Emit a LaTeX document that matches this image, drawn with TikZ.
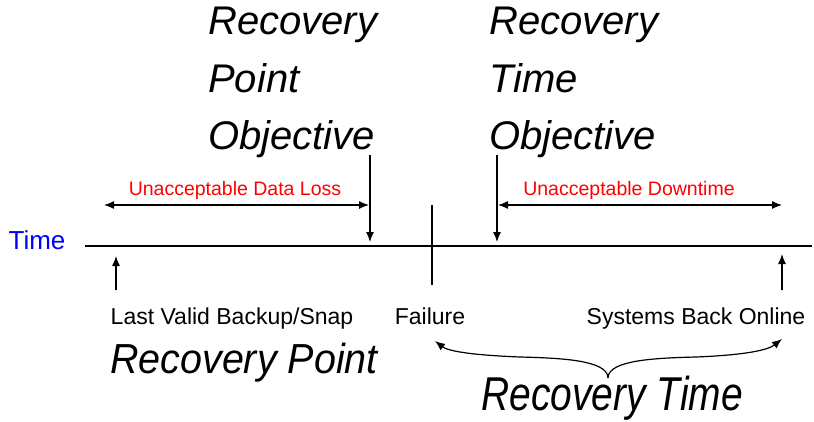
\documentclass[tikz,border=0pt]{standalone}
\usepackage{fontspec}
\setmainfont{Liberation Sans}
\usetikzlibrary{arrows,arrows.meta}
\newcommand{\squeeze}[2]{\scalebox{#1}[1]{#2}}
\tikzset{
	bigtext/.style = {align=left, inner sep=0pt, font=\fontsize{40}{57.5}\selectfont\itshape},% grands titres
	smalltext/.style = {inner sep=0pt, anchor=base, font=\fontsize{23}{26}\selectfont},% etiquettes
	redtext/.style = {smalltext, red, font=\fontsize{19.5}{22}\selectfont},% zones rouges
	line/.style = {line width=1.2pt},
	mark_line/.style = {line, -{Latex[length=10pt,width=8pt]}}
}

\begin{document}
\begin{tikzpicture}[x=1pt,y=-1pt,>={Latex[length=10pt,width=8pt]}]
	\useasboundingbox (0,0) rectangle (814,421);
	% titres
	\node[bigtext, anchor=north west] (rpo) at (208,7) {Recovery\\Point\\Objective};
	\node[bigtext, anchor=north west] (rto) at (489,7) {Recovery\\Time\\Objective};
	% axe du temps
	\node[smalltext, blue, font=\fontsize{26}{28}\selectfont] (time) at (37,249) {Time};
	\coordinate (t0) at (85,246);
	\coordinate (t1) at (812,246);
	\draw[line] (t0) -- (t1);
	% fleches
	\coordinate (rpo_top) at (370,155);
	\coordinate (rpo_bot) at (370,242);
	\coordinate (rto_top) at (497,155);
	\coordinate (rto_bot) at (497,242);
	\coordinate (bk_bot) at (116,290);
	\coordinate (bk_top) at (116,256);
	\coordinate (on_bot) at (782,290);
	\coordinate (on_top) at (782,254);
	\coordinate (f_top) at (432,205);
	\coordinate (f_bot) at (432,285);
	\draw[mark_line] (rpo_top) -- (rpo_bot);
	\draw[mark_line] (rto_top) -- (rto_bot);
	\draw[mark_line] (bk_bot) -- (bk_top);
	\draw[mark_line] (on_bot) -- (on_top);
	\draw[line] (f_top) -- (f_bot);
	% zones
	\coordinate (dl_l) at (104,205);
	\coordinate (dl_r) at (369,205);
	\coordinate (dt_l) at (498,205);
	\coordinate (dt_r) at (782,205);
	\draw[line, <->] (dl_l) -- (dl_r);
	\draw[line, <->] (dt_l) -- (dt_r);
	\node[redtext] (loss) at (235,195) {Unacceptable Data Loss};
	\node[redtext] (down) at (629,195) {Unacceptable Downtime};
	% etiquettes
	\node[smalltext] (backup) at (232,324) {Last Valid Backup/Snap};
	\node[smalltext] (fail) at (430,324) {Failure};
	\node[smalltext] (online) at (696,324) {Systems Back Online};
	\node[bigtext, anchor=base, font=\fontsize{42}{48}\selectfont\itshape] (rp) at (244,373) {\squeeze{0.94}{Recovery Point}};
	\node[bigtext, anchor=base, font=\fontsize{47.5}{52}\selectfont\itshape] (rt) at (612,410) {\squeeze{0.82}{Recovery Time}};
	% accolade
	\coordinate (br_m) at (608,378);
	\coordinate (br_l) at (435,341);
	\coordinate (br_r) at (782,339);
	\draw[line,->] (br_m) .. controls (608,360) and (560,358) .. (520,357)
		.. controls (470,355) and (448,351) .. (br_l);
	\draw[line,->] (br_m) .. controls (608,360) and (656,358) .. (696,357)
		.. controls (746,355) and (768,350) .. (br_r);
\end{tikzpicture}
\end{document}
